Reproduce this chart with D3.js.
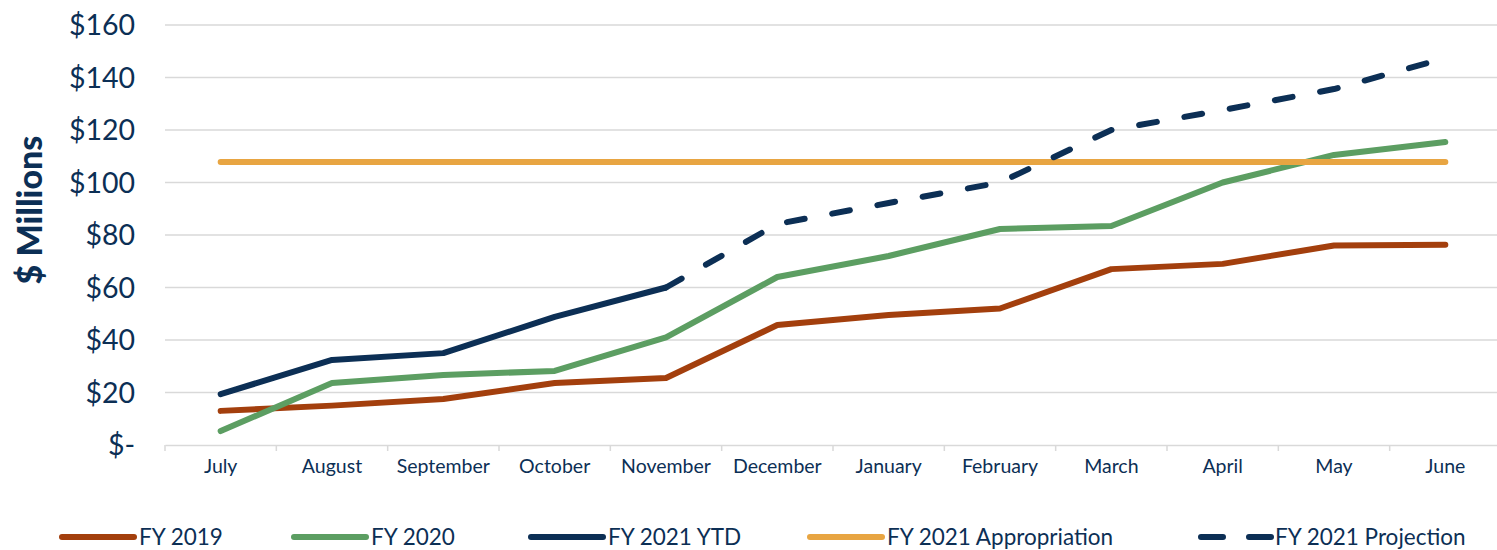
<!DOCTYPE html>
<html>
<head>
<meta charset="utf-8">
<script src="https://cdn.jsdelivr.net/npm/d3@7"></script>
<style>
  body { margin: 0; background: #fff; }
  text { font-family: Lato, "Open Sans", sans-serif; }
</style>
</head>
<body>
<div id="chart"></div>
<script>
// data ($ millions)
var months = ["July", "August", "September", "October", "November", "December",
              "January", "February", "March", "April", "May", "June"];
var fy2019 = [13, 15, 17.5, 23.6, 25.5, 45.7, 49.5, 52, 67, 69, 76, 76.3];
var fy2020 = [5.3, 23.6, 26.7, 28.2, 41, 64, 72, 82.3, 83.4, 100, 110.5, 115.4];
var fy2021Ytd = [19.4, 32.4, 35, 48.8, 60];
var fy2021Proj = [null, null, null, null, 60, 84.2, 92.2, 100, 120, 127.6, 135.6, 147.4];
var appropriation = 107.8;
var yTicks = [0, 20, 40, 60, 80, 100, 120, 140, 160];

var w = 1497, h = 550;
var plotLeft = 165, plotRight = 1501, plotTop = 25, plotBottom = 445;
var navy = "#0c2f55";

var svg = d3.select("#chart").append("svg")
  .attr("width", w).attr("height", h);

var x = d3.scaleBand().domain(months).range([plotLeft, plotRight]);
var y = d3.scaleLinear().domain([0, 160]).range([plotBottom, plotTop]);
var cx = function(m) { return x(m) + x.bandwidth() / 2; };

// gridlines
svg.append("g").selectAll("line")
  .data(yTicks.filter(function(t) { return t > 0; }))
  .enter().append("line")
  .attr("x1", plotLeft).attr("x2", plotRight)
  .attr("y1", function(d) { return y(d); })
  .attr("y2", function(d) { return y(d); })
  .attr("stroke", "#d9d9d9").attr("stroke-width", 1.5);

// y tick labels
svg.append("g").selectAll("text")
  .data(yTicks).enter().append("text")
  .attr("x", 135)
  .attr("y", function(d) { return y(d); })
  .attr("dy", "0.36em")
  .attr("text-anchor", "end")
  .attr("font-size", 28.5)
  .attr("fill", navy)
  .text(function(d) { return d === 0 ? "$-" : "$" + d; });

// x axis
var xAxis = d3.axisBottom(x).tickSize(0).tickPadding(14);
var gx = svg.append("g").attr("transform", "translate(0," + plotBottom + ")").call(xAxis);
gx.select(".domain").attr("stroke", "#d9d9d9").attr("stroke-width", 1.5);
gx.selectAll("text").attr("font-size", 19.5).attr("fill", navy)
  .attr("font-family", "Lato, sans-serif");
// category separator ticks
svg.append("g").selectAll("line")
  .data(months.concat(["end"]))
  .enter().append("line")
  .attr("x1", function(d, i) { return plotLeft + i * x.step(); })
  .attr("x2", function(d, i) { return plotLeft + i * x.step(); })
  .attr("y1", plotBottom).attr("y2", plotBottom + 6)
  .attr("stroke", "#d9d9d9").attr("stroke-width", 1.5);

// y title
svg.append("text")
  .attr("transform", "translate(42,210) rotate(-90)")
  .attr("text-anchor", "middle")
  .attr("font-size", 34)
  .attr("font-weight", 900)
  .attr("fill", navy)
  .text("$ Millions");

var line = d3.line()
  .defined(function(d) { return d != null; })
  .x(function(d, i) { return cx(months[i]); })
  .y(function(d) { return y(d); });

var series = [
  { name: "FY 2019", values: fy2019, color: "#a33f0d", dash: null },
  { name: "FY 2020", values: fy2020, color: "#5c9e62", dash: null },
  { name: "FY 2021 YTD", values: fy2021Ytd, color: navy, dash: null },
  { name: "FY 2021 Appropriation", values: months.map(function() { return appropriation; }), color: "#e8a542", dash: null },
  { name: "FY 2021 Projection", values: fy2021Proj, color: navy, dash: "18 28" }
];

svg.append("g").selectAll("path")
  .data(series).enter().append("path")
  .attr("d", function(d) { return line(d.values); })
  .attr("fill", "none")
  .attr("stroke", function(d) { return d.color; })
  .attr("stroke-width", 6)
  .attr("stroke-linecap", "round")
  .attr("stroke-linejoin", "round")
  .attr("stroke-dasharray", function(d) { return d.dash; });

// legend
var legendX = [62, 294, 531, 810, 1198];
var lg = svg.append("g").selectAll("g")
  .data(series).enter().append("g")
  .attr("transform", function(d, i) { return "translate(" + legendX[i] + ",537)"; });
lg.append("line")
  .attr("x1", 0).attr("x2", 72)
  .attr("stroke", function(d) { return d.color; })
  .attr("stroke-width", 6)
  .attr("stroke-linecap", "round")
  .attr("stroke-dasharray", function(d) { return d.dash ? "22 26" : null; })
  .attr("transform", function(d) { return d.dash ? "translate(3,0)" : null; });
lg.append("text")
  .attr("x", 77)
  .attr("dy", "0.36em")
  .attr("font-size", 22.5)
  .attr("fill", navy)
  .text(function(d) { return d.name; });
</script>
</body>
</html>
